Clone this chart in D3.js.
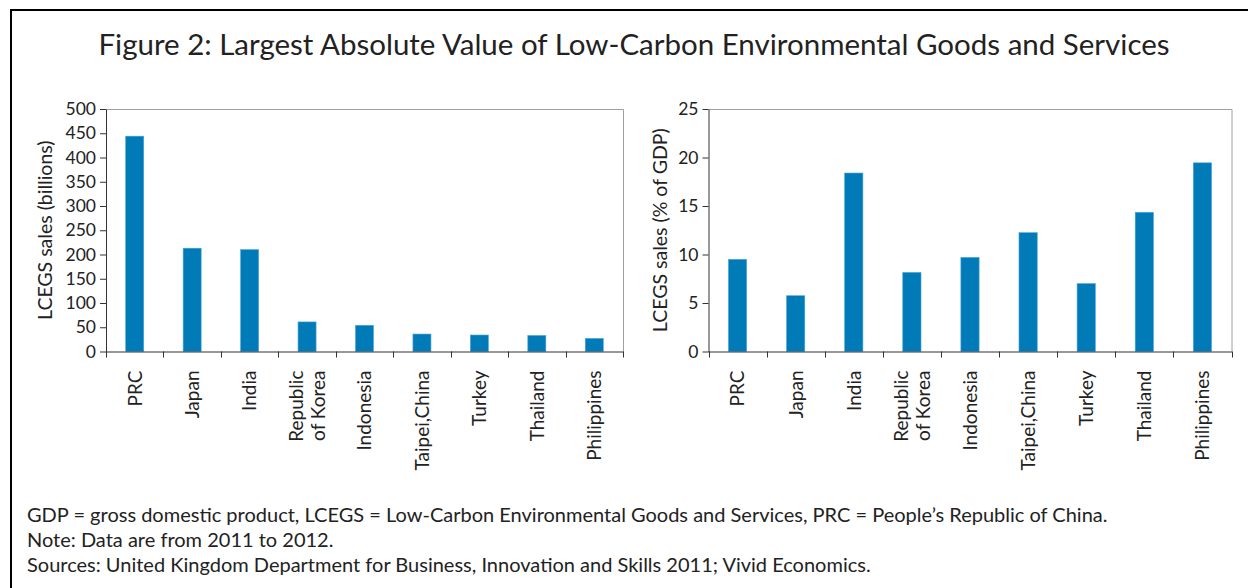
<!DOCTYPE html>
<html>
<head>
<meta charset="utf-8">
<script src="https://cdn.jsdelivr.net/npm/d3@7"></script>
<style>
  body { margin: 0; background: #fff; }
  svg text { font-family: Lato, "Open Sans", sans-serif; fill: #222; }
</style>
</head>
<body>
<div id="chart"></div>
<script>
// data
var countries = ["PRC", "Japan", "India", "Republic of Korea", "Indonesia", "Taipei,China", "Turkey", "Thailand", "Philippines"];
var salesBillions = [444, 213, 210, 61, 54, 36, 34, 33, 27];
var salesPctGdp = [9.5, 5.75, 18.4, 8.15, 9.7, 12.25, 7.0, 14.35, 19.45];
var leftTicks = [0, 50, 100, 150, 200, 250, 300, 350, 400, 450, 500];
var rightTicks = [0, 5, 10, 15, 20, 25];

var title = "Figure 2: Largest Absolute Value of Low-Carbon Environmental Goods and Services";
var notes = [
  "GDP = gross domestic product, LCEGS = Low-Carbon Environmental Goods and Services, PRC = People\u2019s Republic of China.",
  "Note: Data are from 2011 to 2012.",
  "Sources: United Kingdom Department for Business, Innovation and Skills 2011; Vivid Economics."
];

var W = 1248, H = 588;
var svg = d3.select("#chart").append("svg")
    .attr("width", W).attr("height", H);

// outer frame, runs off right and bottom edge
svg.append("rect")
    .attr("x", 11).attr("y", 10)
    .attr("width", W).attr("height", H)
    .attr("fill", "none").attr("stroke", "#000").attr("stroke-width", 2);

// shrink font until text fits a width
var fitText = function(t, w, size) {
    t.style("font-size", size + "px");
    while (t.node().getComputedTextLength() > w && size > 6) {
        size -= 0.25;
        t.style("font-size", size + "px");
    }
    return t;
};

var tt = svg.append("text").attr("x", 634).attr("y", 55)
    .attr("text-anchor", "middle").text(title);
fitText(tt, 1077, 30);

var drawPanel = function(opts) {
    var x = d3.scaleBand().domain(countries)
        .range([opts.left, opts.right])
        .paddingInner(0.686).paddingOuter(0.343);
    var y = d3.scaleLinear().domain([0, opts.max]).range([opts.bottom, opts.top]);
    var g = svg.append("g");

    // plot frame: gray top/right
    g.append("path")
        .attr("d", "M" + opts.left + "," + (opts.top + 0.5) + "H" + (opts.right + 0.5) + "V" + opts.bottom)
        .attr("fill", "none").attr("stroke", "#a0a0a0").attr("stroke-width", 1);

    g.selectAll("rect.bar").data(opts.values).enter().append("rect")
        .attr("class", "bar")
        .attr("x", (d, i) => x(countries[i]))
        .attr("width", x.bandwidth())
        .attr("y", d => y(d))
        .attr("height", d => opts.bottom - y(d))
        .attr("fill", "#007bb7")
        .attr("stroke", "#4aa6d8").attr("stroke-width", 0.6);

    var ya = g.append("g").attr("transform", "translate(" + opts.left + ",0)")
        .call(d3.axisLeft(y).tickValues(opts.ticks).tickSize(6).tickPadding(4).tickSizeOuter(0));
    ya.select(".domain").attr("stroke", "#333");
    ya.selectAll(".tick line").attr("stroke", "#333");
    ya.selectAll(".tick text").style("font-size", "17.5px").style("font-family", "Lato, sans-serif").attr("fill", "#222");

    // category boundary ticks along the bottom
    var step = x.step();
    var bounds = d3.range(countries.length + 1).map(i => opts.left + i * step);
    g.append("line")
        .attr("x1", opts.left).attr("x2", opts.right + 0.5)
        .attr("y1", opts.bottom + 0.5).attr("y2", opts.bottom + 0.5)
        .attr("stroke", "#333");
    g.selectAll("line.bt").data(bounds).enter().append("line")
        .attr("class", "bt")
        .attr("x1", d => Math.round(d) + 0.5).attr("x2", d => Math.round(d) + 0.5)
        .attr("y1", opts.bottom).attr("y2", opts.bottom + 6)
        .attr("stroke", "#333");

    // rotated category labels
    countries.forEach(function(c, i) {
        var cx = x(c) + x.bandwidth() / 2;
        var lines = c === "Republic of Korea" ? ["Republic", "of Korea"] : [c];
        var t = g.append("text")
            .attr("transform", "translate(" + cx + "," + (opts.bottom + 19) + ") rotate(-90)")
            .attr("text-anchor", "end")
            .style("font-size", "19px");
        lines.forEach(function(l, j) {
            t.append("tspan").attr("x", 0)
                .attr("dy", j === 0 ? (0.36 - (lines.length - 1) * 0.58) + "em" : "1.16em")
                .text(l);
        });
    });

    g.append("text")
        .attr("transform", "translate(" + opts.labelX + "," + ((opts.top + opts.bottom) / 2) + ") rotate(-90)")
        .attr("text-anchor", "middle").attr("dy", "0.36em")
        .style("font-size", "19.5px")
        .text(opts.label);
};

drawPanel({left: 106, right: 623, top: 109, bottom: 351.5, max: 500,
    values: salesBillions, ticks: leftTicks, label: "LCEGS sales (billions)", labelX: 45});
drawPanel({left: 708.5, right: 1231.5, top: 109, bottom: 351.5, max: 25,
    values: salesPctGdp, ticks: rightTicks, label: "LCEGS sales (% of GDP)", labelX: 660});

var nt = svg.append("g");
notes.forEach(function(n, i) {
    var t = nt.append("text").attr("x", 27).attr("y", 522 + i * 25).text(n);
    if (i === 0) fitText(t, 1103, 20);
});
var fs = nt.select("text").style("font-size");
nt.selectAll("text").style("font-size", fs);
</script>
</body>
</html>
